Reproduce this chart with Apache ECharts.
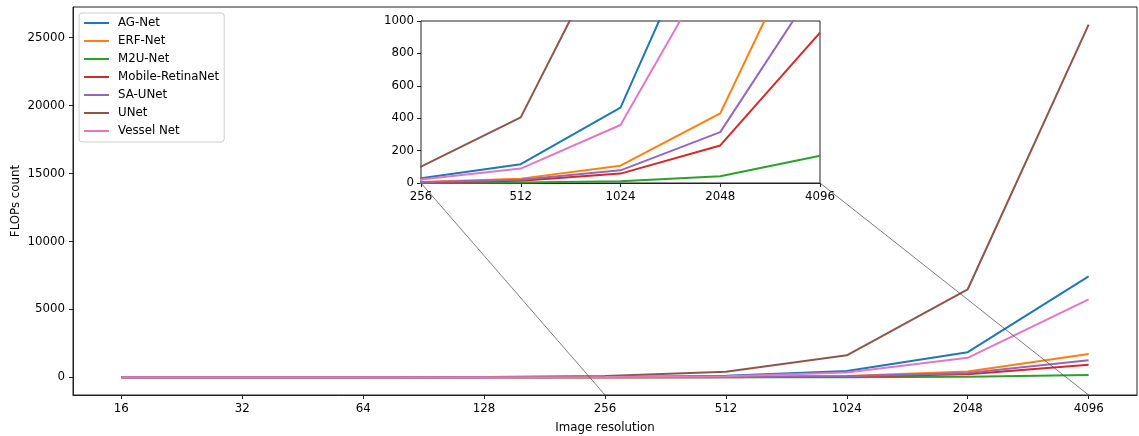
<!DOCTYPE html>
<html>
<head>
<meta charset="utf-8">
<script src="https://cdn.jsdelivr.net/npm/echarts@6/dist/echarts.min.js"></script>
<style>
  html, body { margin: 0; padding: 0; background: #fff; }
  #chart { width: 1139px; height: 436px; }
</style>
</head>
<body>
<div id="chart"></div>
<script>
// Image resolutions (x axis, log2 scale)
const resolutions = [16, 32, 64, 128, 256, 512, 1024, 2048, 4096];

// FLOPs count per network at each resolution
const agNet           = [0.11, 0.45, 1.8, 7.3, 29, 116, 465, 1850, 7430];
const erfNet          = [0.03, 0.1, 0.42, 1.7, 6.7, 27, 107, 430, 1720];
const m2uNet          = [0.003, 0.01, 0.04, 0.17, 0.7, 2.7, 10.6, 42, 168];
const mobileRetinaNet = [0.014, 0.06, 0.23, 0.9, 3.6, 14.5, 58, 232, 928];
const saUNet          = [0.02, 0.08, 0.31, 1.2, 4.9, 19.6, 78, 314, 1255];
const uNet            = [0.4, 1.6, 6.3, 25.3, 101, 405, 1620, 6480, 25950];
const vesselNet       = [0.09, 0.35, 1.4, 5.6, 22, 89, 358, 1435, 5740];

const seriesNames = ['AG-Net', 'ERF-Net', 'M2U-Net', 'Mobile-RetinaNet', 'SA-UNet', 'UNet', 'Vessel Net'];
const seriesValues = [agNet, erfNet, m2uNet, mobileRetinaNet, saUNet, uNet, vesselNet];
const colors = ['#1f77b4', '#ff7f0e', '#2ca02c', '#d62728', '#9467bd', '#8c564b', '#e377c2'];

// Tick labels
const mainYTicks = [0, 5000, 10000, 15000, 20000, 25000];
const insetResolutions = [256, 512, 1024, 2048, 4096];

const FONT = 'DejaVu Sans';
const FS = 11.8;

// main axis ranges with 5% padding like matplotlib autoscale
const log2Res = resolutions.map(r => Math.log2(r));
const xSpan = log2Res[log2Res.length - 1] - log2Res[0];
const xMin = log2Res[0] - 0.05 * xSpan;
const xMax = log2Res[log2Res.length - 1] + 0.05 * xSpan;
const allVals = [].concat(...seriesValues);
const vMin = Math.min(...allVals), vMax = Math.max(...allVals);
const ySpan = vMax - vMin;
const yMin = vMin - 0.05 * ySpan;
const yMax = vMax + 0.05 * ySpan;

const fmtRes = v => String(Math.round(Math.pow(2, v)));
const fmtInt = v => String(Math.round(v));

const labelStyle = { fontFamily: FONT, fontSize: FS, color: '#000' };
const lineColor = '#222';
const axisLineStyle = { show: true, onZero: false, lineStyle: { color: lineColor, width: 1 } };
const tickStyle = { show: true, length: 4, inside: false, interval: 0, lineStyle: { color: lineColor, width: 1 } };

const series = [];
seriesNames.forEach((name, i) => {
  const pts = resolutions.map((r, j) => [Math.log2(r), seriesValues[i][j]]);
  series.push({
    name, type: 'line', data: pts, xAxisIndex: 0, yAxisIndex: 0,
    showSymbol: false, symbol: 'none', z: 2,
    lineStyle: { color: colors[i], width: 2 }, itemStyle: { color: colors[i] },
    emphasis: { disabled: true }, animation: false
  });
});
seriesNames.forEach((name, i) => {
  const pts = resolutions.map((r, j) => [Math.log2(r), seriesValues[i][j]]);
  series.push({
    name, type: 'line', data: pts, xAxisIndex: 1, yAxisIndex: 1,
    showSymbol: false, symbol: 'none', z: 12, clip: true,
    lineStyle: { color: colors[i], width: 2 }, itemStyle: { color: colors[i] },
    emphasis: { disabled: true }, animation: false
  });
});

const chart = echarts.init(document.getElementById('chart'), null, { renderer: 'canvas' });

chart.setOption({
  animation: false,
  backgroundColor: '#fff',
  textStyle: { fontFamily: FONT },
  grid: [
    { left: 73, top: 7, right: 2, bottom: 41, show: true, borderColor: lineColor, borderWidth: 1,
      backgroundColor: '#fff', containLabel: false, outerBoundsMode: 'none', z: 0 },
    { left: 421, top: 21, width: 399, height: 162, show: true, borderColor: lineColor, borderWidth: 1,
      backgroundColor: '#fff', containLabel: false, outerBoundsMode: 'none', z: 10 }
  ],
  legend: {
    orient: 'vertical', left: 79, top: 13,
    data: seriesNames,
    icon: 'rect', itemWidth: 25, itemHeight: 2, itemGap: 4,
    padding: [3, 5, 4, 5],
    backgroundColor: 'rgba(255,255,255,0.8)', borderColor: '#cccccc', borderWidth: 1, borderRadius: 3,
    textStyle: { fontFamily: FONT, fontSize: FS, color: '#000', lineHeight: 14, padding: [0, 0, 0, 4] },
    selectedMode: false, z: 20
  },
  xAxis: [
    {
      type: 'value', gridIndex: 0, position: 'bottom', min: xMin, max: xMax,
      name: 'Image resolution', nameLocation: 'middle', nameGap: 27, nameMoveOverlap: false,
      nameTextStyle: labelStyle,
      axisLine: axisLineStyle,
      axisTick: { ...tickStyle, customValues: log2Res },
      axisLabel: { ...labelStyle, margin: 8, interval: 0, customValues: log2Res, formatter: fmtRes },
      splitLine: { show: false }
    },
    {
      type: 'value', gridIndex: 1, position: 'bottom',
      min: Math.log2(insetResolutions[0]), max: Math.log2(insetResolutions[insetResolutions.length - 1]),
      interval: 1,
      axisLine: axisLineStyle,
      axisTick: tickStyle,
      axisLabel: { ...labelStyle, margin: 8, interval: 0, formatter: fmtRes, showMinLabel: true, showMaxLabel: true },
      splitLine: { show: false }
    }
  ],
  yAxis: [
    {
      type: 'value', gridIndex: 0, position: 'left', min: yMin, max: yMax,
      name: 'FLOPs count', nameLocation: 'middle', nameGap: 51, nameRotate: 90, nameMoveOverlap: false,
      nameTextStyle: labelStyle,
      axisLine: axisLineStyle,
      axisTick: { ...tickStyle, customValues: mainYTicks },
      axisLabel: { ...labelStyle, margin: 8, interval: 0, customValues: mainYTicks, formatter: fmtInt },
      splitLine: { show: false }
    },
    {
      type: 'value', gridIndex: 1, position: 'left', min: 0, max: 1000, interval: 200,
      axisLine: axisLineStyle,
      axisTick: tickStyle,
      axisLabel: { ...labelStyle, margin: 7, interval: 0, formatter: fmtInt },
      splitLine: { show: false }
    }
  ],
  series
});

// connector lines from the inset's lower corners down to the zoomed span on the main axes
function drawConnectors() {
  const x0 = Math.log2(insetResolutions[0]);
  const x1 = Math.log2(insetResolutions[insetResolutions.length - 1]);
  const a0 = chart.convertToPixel({ gridIndex: 1 }, [x0, 0]);
  const a1 = chart.convertToPixel({ gridIndex: 1 }, [x1, 0]);
  const b0 = chart.convertToPixel({ gridIndex: 0 }, [x0, yMin]);
  const b1 = chart.convertToPixel({ gridIndex: 0 }, [x1, yMin]);
  const st = { stroke: '#444', lineWidth: 0.7 };
  chart.setOption({
    graphic: [
      { type: 'line', shape: { x1: a0[0], y1: a0[1], x2: b0[0], y2: b0[1] }, style: st, z: 5, silent: true },
      { type: 'line', shape: { x1: a1[0], y1: a1[1], x2: b1[0], y2: b1[1] }, style: st, z: 5, silent: true }
    ]
  });
}
drawConnectors();
</script>
</body>
</html>
